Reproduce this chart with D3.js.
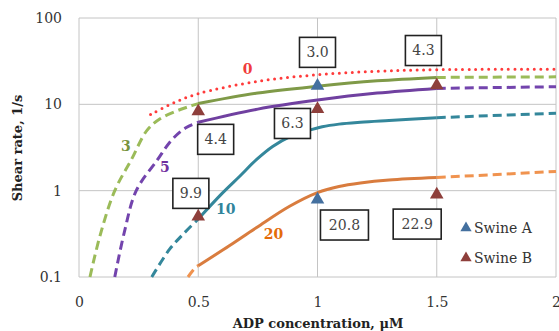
<!DOCTYPE html>
<html>
<head>
<meta charset="utf-8">
<script src="https://cdn.jsdelivr.net/npm/d3@7"></script>
<style>
body { margin: 0; background: #fff; }
text { font-family: "DejaVu Serif", serif; }
</style>
</head>
<body>
<div id="chart"></div>
<script>
// curves: [x, y] points, solid between 0.5 and 1.5, dashed outside
var curve0 = [[0.3, 7.6], [0.4, 10.5], [0.5, 13.3], [0.75, 18.5], [1.0, 22], [1.25, 24.2], [1.5, 25.2], [2.0, 25.5]];
var curve3 = [[0.046, 0.1], [0.088, 0.3], [0.15, 1.0], [0.22, 2.3], [0.285, 5.0], [0.34, 6.8], [0.41, 8.4], [0.46, 9.4], [0.5, 10.2], [0.75, 13.5], [1.0, 16.2], [1.25, 18.7], [1.5, 20.5], [2.0, 20.8]];
var curve5 = [[0.15, 0.1], [0.19, 0.33], [0.24, 1.0], [0.33, 2.3], [0.39, 3.9], [0.45, 5.4], [0.5, 6.2], [0.75, 8.8], [1.0, 11.2], [1.25, 13.5], [1.5, 15.3], [2.0, 16]];
var curve10 = [[0.305, 0.1], [0.38, 0.21], [0.435, 0.31], [0.5, 0.47], [0.6, 0.93], [0.674, 1.47], [0.745, 2.3], [0.812, 3.25], [0.883, 4.2], [0.954, 4.9], [1.02, 5.5], [1.09, 5.9], [1.18, 6.2], [1.3, 6.5], [1.5, 7.0], [2.0, 7.9]];
var curve20 = [[0.457, 0.1], [0.49, 0.13], [0.5, 0.135], [0.63, 0.23], [0.745, 0.375], [0.883, 0.66], [1.0, 0.95], [1.09, 1.12], [1.18, 1.23], [1.3, 1.33], [1.5, 1.42], [2.0, 1.67]];

var swineA = [[1.0, 16.4], [1.0, 0.79]];
var swineB = [[0.5, 8.3], [1.0, 8.8], [1.5, 16.6], [0.5, 0.5], [1.5, 0.9]];

var boxText = ["3.0", "4.3", "4.4", "6.3", "9.9", "20.8", "22.9"];
var boxX = [1.0, 1.444, 0.573, 0.895, 0.469, 1.113, 1.418];
var boxY = [40, 42, 3.93, 6.0, 0.93, 0.4, 0.41];

var curveNames = ["0", "3", "5", "10", "20"];
var nameX = [0.707, 0.197, 0.36, 0.615, 0.816];
var nameY = [25.5, 3.26, 1.86, 0.61, 0.31];

var xTicks = [0, 0.5, 1, 1.5, 2];
var yTicks = [0.1, 1, 10, 100];

var width = 559, height = 331;
var x = d3.scaleLinear().domain([0, 2]).range([79, 556]);
var y = d3.scaleLog().domain([0.1, 100]).range([277, 18]);

var svg = d3.select("#chart").append("svg")
	.attr("width", width)
	.attr("height", height);

// grid
svg.append("g").selectAll("line").data(xTicks).enter().append("line")
	.attr("x1", function(d){return x(d)}).attr("x2", function(d){return x(d)})
	.attr("y1", y(100)).attr("y2", y(0.1))
	.attr("stroke", "#c4c4c4").attr("stroke-width", 1);
svg.append("g").selectAll("line").data(yTicks).enter().append("line")
	.attr("x1", x(0)).attr("x2", x(2))
	.attr("y1", function(d){return y(d)}).attr("y2", function(d){return y(d)})
	.attr("stroke", "#c4c4c4").attr("stroke-width", 1);

// tick labels
var xAxis = svg.append("g").attr("transform", "translate(0," + y(0.1) + ")")
	.call(d3.axisBottom(x).tickValues(xTicks).tickSize(0).tickPadding(20)
		.tickFormat(function(d){return d3.format("")(d)}));
var yAxis = svg.append("g").attr("transform", "translate(" + x(0) + ",0)")
	.call(d3.axisLeft(y).tickValues(yTicks).tickSize(0).tickPadding(17)
		.tickFormat(function(d){return d3.format("")(d)}));
[xAxis, yAxis].forEach(function(a) {
	a.select(".domain").remove();
	a.selectAll("text").style("font-family", "DejaVu Serif").style("font-size", "14px").attr("fill", "#333");
});

// axis titles
svg.append("text").attr("x", 318).attr("y", 328).attr("text-anchor", "middle")
	.style("font-size", "13px").style("font-weight", "bold").attr("fill", "#222")
	.text("ADP concentration, \u03bcM");
svg.append("text").attr("transform", "translate(22,148) rotate(-90)").attr("text-anchor", "middle")
	.style("font-size", "13px").style("font-weight", "bold").attr("fill", "#222")
	.text("Shear rate, 1/s");

var line = d3.line()
	.x(function(d){return x(d[0])})
	.y(function(d){return y(d[1])})
	.curve(d3.curveCatmullRom.alpha(0.5));

function seg(pts, a, b) {
	return pts.filter(function(p){return p[0] >= a && p[0] <= b});
}

function drawCurve(pts, colSolid, colDash) {
	var parts = [
		{d: seg(pts, -1, 0.5), solid: false},
		{d: seg(pts, 0.5, 1.5), solid: true},
		{d: seg(pts, 1.5, 3), solid: false}
	];
	parts.forEach(function(p) {
		if (p.d.length < 2) return;
		svg.append("path").attr("d", line(p.d))
			.attr("fill", "none")
			.attr("stroke", p.solid ? colSolid : colDash)
			.attr("stroke-width", 3)
			.attr("stroke-dasharray", p.solid ? null : "9,5");
	});
}

drawCurve(curve20, "#d97c3e", "#f0934f");
drawCurve(curve10, "#34879b", "#34879b");
drawCurve(curve5, "#7040a0", "#7344ad");
drawCurve(curve3, "#7f9a48", "#9bbb59");

// dotted red curve
svg.append("path").attr("d", line(curve0))
	.attr("fill", "none").attr("stroke", "#ff3b3b")
	.attr("stroke-width", 3).attr("stroke-linecap", "round")
	.attr("stroke-dasharray", "0,6.5");

// markers
var tri = d3.symbol().type(d3.symbolTriangle).size(80);
function drawMarkers(pts, col) {
	svg.append("g").selectAll("path").data(pts).enter().append("path")
		.attr("d", tri)
		.attr("transform", function(d){return "translate(" + x(d[0]) + "," + y(d[1]) + ")"})
		.attr("fill", col);
}
drawMarkers(swineA, "#44709f");
drawMarkers(swineB, "#8e3f3b");

// boxed values
var boxes = svg.append("g").selectAll("g").data(boxText).enter().append("g")
	.attr("transform", function(d, i){return "translate(" + x(boxX[i]) + "," + y(boxY[i]) + ")"});
boxes.append("rect")
	.attr("x", function(d){return d.length > 3 ? -24 : -18})
	.attr("y", -15)
	.attr("width", function(d){return d.length > 3 ? 48 : 36})
	.attr("height", 30)
	.attr("fill", "#fff").attr("stroke", "#222").attr("stroke-width", 1.6);
boxes.append("text").attr("text-anchor", "middle").attr("dy", "0.35em")
	.style("font-size", "14px").attr("fill", "#444")
	.text(function(d){return d});

// curve names
var nameCol = ["#f03c3c", "#77933c", "#7030a0", "#31849b", "#e46c0a"];
svg.append("g").selectAll("text").data(curveNames).enter().append("text")
	.attr("x", function(d, i){return x(nameX[i])})
	.attr("y", function(d, i){return y(nameY[i])})
	.attr("dy", "0.35em").attr("text-anchor", "middle")
	.style("font-size", "14px").style("font-weight", "bold")
	.attr("fill", function(d, i){return nameCol[i]})
	.text(function(d){return d});

// legend
var legNames = ["Swine A", "Swine B"];
var legCol = ["#44709f", "#8e3f3b"];
var leg = svg.append("g").selectAll("g").data(legNames).enter().append("g")
	.attr("transform", function(d, i){return "translate(466," + (228 + i * 30) + ")"});
leg.append("path").attr("d", d3.symbol().type(d3.symbolTriangle).size(55))
	.attr("fill", function(d, i){return legCol[i]});
leg.append("text").attr("x", 8).attr("dy", "0.35em")
	.style("font-size", "14px").attr("fill", "#333")
	.text(function(d){return d});
</script>
</body>
</html>
